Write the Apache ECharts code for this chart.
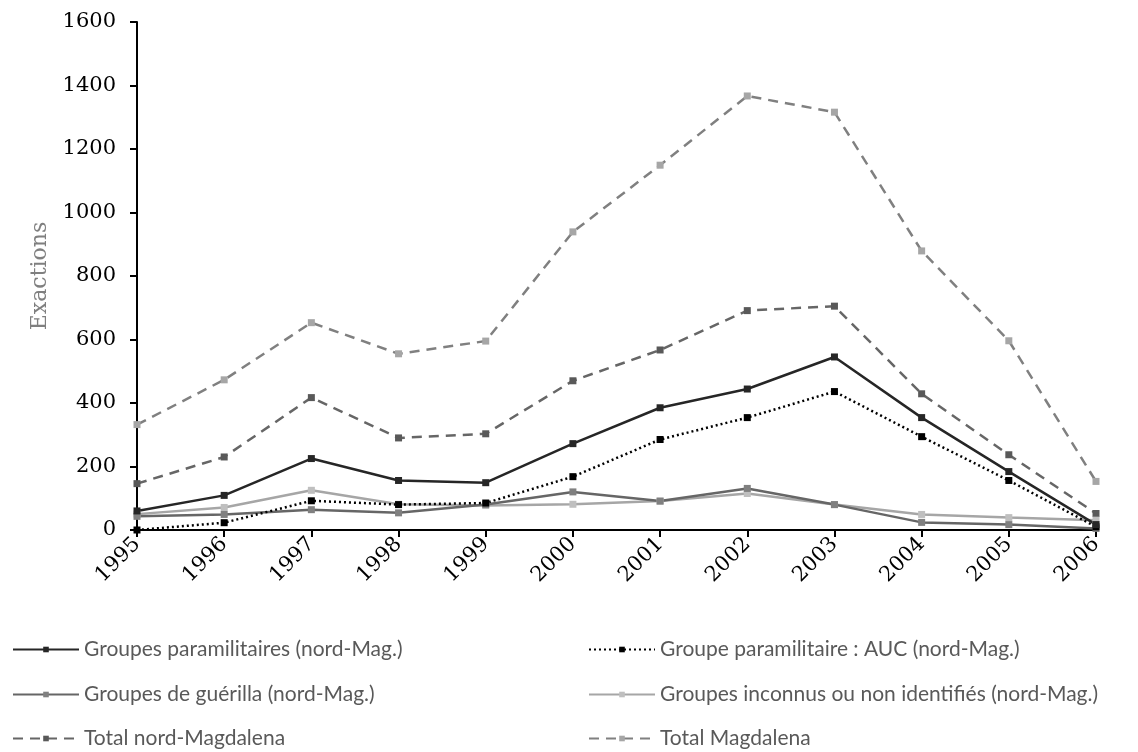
<!DOCTYPE html>
<html><head><meta charset="utf-8">
<script src="https://cdn.jsdelivr.net/npm/echarts@6/dist/echarts.min.js"></script>
<style>html,body{margin:0;padding:0;background:#fff}#c{width:1138px;height:752px}</style>
</head><body><div id="c"></div>
<script>
const years = ['1995','1996','1997','1998','1999','2000','2001','2002','2003','2004','2005','2006'];
const yTicks = [0, 200, 400, 600, 800, 1000, 1200, 1400, 1600];
const paramil = [60,109,225,156,149,272,385,444,545,354,184,17];
const auc = [0,23,92,80,85,168,285,354,436,294,156,10];
const guerilla = [43,49,64,54,80,120,91,131,80,24,17,5];
const inconnus = [50,71,125,81,77,81,91,115,80,49,39,31];
const totalNord = [146,230,417,290,303,470,567,691,705,429,237,52];
const totalMag = [332,473,653,555,595,939,1149,1367,1316,879,596,153];

const names = {
  paramil: 'Groupes paramilitaires (nord-Mag.)',
  auc: 'Groupe paramilitaire : AUC (nord-Mag.)',
  guerilla: 'Groupes de guérilla (nord-Mag.)',
  inconnus: 'Groupes inconnus ou non identifiés (nord-Mag.)',
  totalNord: 'Total nord-Magdalena',
  totalMag: 'Total Magdalena'
};

function mk(name, data, lineColor, markColor, type, width) {
  return {
    name: name, type: 'line', data: data,
    symbol: 'rect', symbolSize: 7, showSymbol: true,
    lineStyle: { color: lineColor, width: width, type: type },
    itemStyle: { color: markColor },
    animation: false
  };
}

const serif = 'DejaVu Serif';
const legendText = { fontFamily: 'Lato', fontSize: 21, color: '#595959' };

function leg(name, left, cy) {
  return {
    orient: 'horizontal', left: left, top: cy - 12, padding: 0,
    itemWidth: 66, itemHeight: 7, itemGap: 0, textStyle: legendText,
    data: [name]
  };
}

const chart = echarts.init(document.getElementById('c'));
chart.setOption({
  backgroundColor: '#fff',
  animation: false,
  grid: { left: 137, right: 42, top: 22, bottom: 222, containLabel: false },
  xAxis: {
    type: 'category', data: years, boundaryGap: false,
    axisLine: { lineStyle: { color: '#000', width: 2 } },
    axisTick: { show: true, length: 7, lineStyle: { color: '#000', width: 2 } },
    axisLabel: { rotate: 45, margin: 11, fontFamily: serif, fontSize: 21, color: '#000' },
    splitLine: { show: false }
  },
  yAxis: {
    type: 'value', min: yTicks[0], max: yTicks[yTicks.length - 1], interval: 200,
    name: 'Exactions', nameLocation: 'middle', nameGap: 86,
    nameTextStyle: { fontFamily: serif, fontSize: 22, color: '#7f7f7f' },
    axisLine: { show: true, lineStyle: { color: '#000', width: 2 } },
    axisTick: { show: true, length: 7, lineStyle: { color: '#000', width: 2 } },
    axisLabel: { margin: 21, fontFamily: serif, fontSize: 21, color: '#000',
      formatter: function (v) { return String(v); } },
    splitLine: { show: false }
  },
  legend: [
    leg(names.paramil, 12, 651),
    leg(names.guerilla, 12, 696),
    leg(names.totalNord, 12, 740),
    leg(names.auc, 588, 651),
    leg(names.inconnus, 588, 696),
    leg(names.totalMag, 588, 740)
  ],
  series: [
    mk(names.totalMag, totalMag, '#808080', '#a6a6a6', [10, 7], 2.5),
    mk(names.totalNord, totalNord, '#666666', '#595959', [10, 7], 2.5),
    mk(names.inconnus, inconnus, '#a6a6a6', '#bfbfbf', 'solid', 2.5),
    mk(names.guerilla, guerilla, '#666666', '#808080', 'solid', 2.5),
    mk(names.auc, auc, '#000000', '#000000', [2, 3], 2.5),
    mk(names.paramil, paramil, '#262626', '#262626', 'solid', 2.5)
  ]
});
</script></body></html>
